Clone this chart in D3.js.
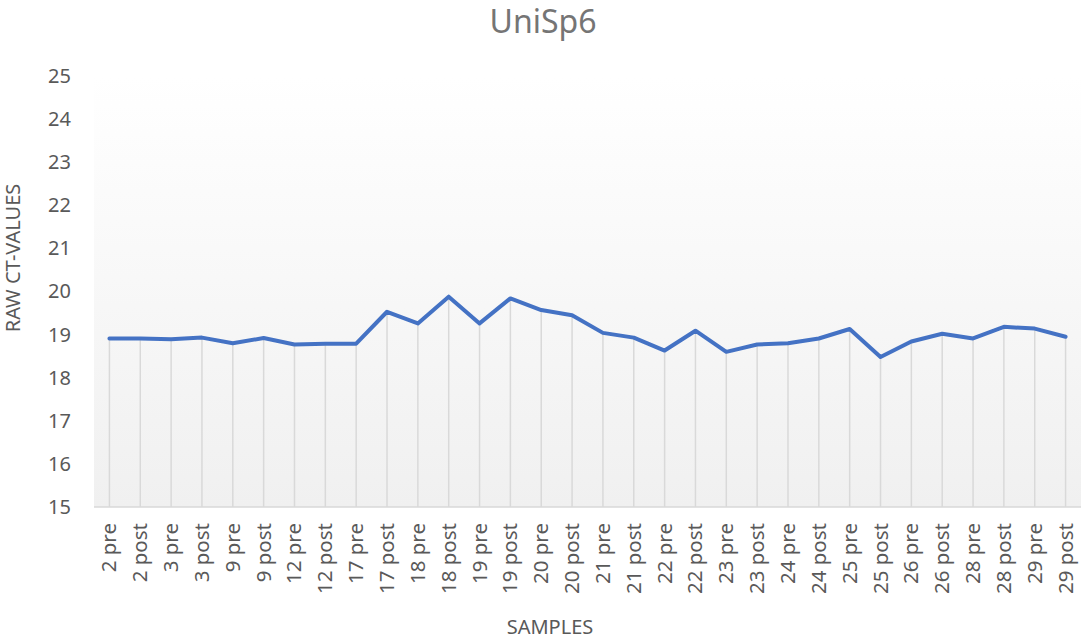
<!DOCTYPE html>
<html>
<head>
<meta charset="utf-8">
<script src="https://cdn.jsdelivr.net/npm/d3@7"></script>
<style>
  body { margin: 0; background: #fff; }
  text { font-family: "Noto Sans", "Open Sans", sans-serif; }
</style>
</head>
<body>
<script>
const svgW = 1081;
const svgH = 639;

// data
const samples = ['2 pre', '2 post', '3 pre', '3 post', '9 pre', '9 post', '12 pre', '12 post',
                 '17 pre', '17 post', '18 pre', '18 post', '19 pre', '19 post', '20 pre', '20 post',
                 '21 pre', '21 post', '22 pre', '22 post', '23 pre', '23 post', '24 pre', '24 post',
                 '25 pre', '25 post', '26 pre', '26 post', '28 pre', '28 post', '29 pre', '29 post'];
const ctValues = [18.91, 18.91, 18.89, 18.93, 18.80, 18.92, 18.77, 18.79,
                  18.79, 19.53, 19.26, 19.88, 19.26, 19.84, 19.57, 19.45,
                  19.04, 18.93, 18.63, 19.09, 18.60, 18.77, 18.80, 18.91,
                  19.13, 18.48, 18.84, 19.02, 18.91, 19.18, 19.14, 18.95];
const yTicks = [15, 16, 17, 18, 19, 20, 21, 22, 23, 24, 25];

const plot = { left: 94, right: 1081, top: 76, bottom: 507 };

const svg = d3.select('body')
              .append('svg')
              .attr('width', svgW)
              .attr('height', svgH);

// plot-area gradient
const grad = svg.append('defs').append('linearGradient')
                .attr('id', 'bg')
                .attr('x1', 0).attr('y1', 0).attr('x2', 0).attr('y2', 1);
grad.append('stop').attr('offset', '0%').attr('stop-color', '#ffffff');
grad.append('stop').attr('offset', '100%').attr('stop-color', '#f0f0f0');

svg.append('rect')
   .attr('x', plot.left)
   .attr('y', plot.top)
   .attr('width', plot.right - plot.left)
   .attr('height', plot.bottom - plot.top)
   .attr('fill', 'url(#bg)');

const x = d3.scaleBand()
            .domain(samples)
            .range([plot.left, plot.right]);

const y = d3.scaleLinear()
            .domain([15, 25])
            .range([plot.bottom, plot.top]);

const cx = d => x(d) + x.bandwidth() / 2;

// drop lines
svg.append('g')
   .selectAll('line')
   .data(samples)
   .enter()
   .append('line')
   .attr('x1', d => cx(d))
   .attr('x2', d => cx(d))
   .attr('y1', (d, i) => y(ctValues[i]))
   .attr('y2', y(15))
   .attr('stroke', '#d9d9d9')
   .attr('stroke-width', 1.5);

// baseline
svg.append('line')
   .attr('x1', plot.left)
   .attr('x2', plot.right)
   .attr('y1', y(15))
   .attr('y2', y(15))
   .attr('stroke', '#d9d9d9')
   .attr('stroke-width', 1.5);

// y axis labels
const yAxis = svg.append('g')
                 .attr('transform', 'translate(71,0)')
                 .call(d3.axisLeft(y).tickValues(yTicks).tickSize(0).tickPadding(0));
yAxis.select('.domain').remove();
yAxis.selectAll('text')
     .attr('font-family', '"Noto Sans", sans-serif')
     .attr('font-size', 20)
     .attr('fill', '#595959');

// x axis labels
const xAxis = svg.append('g')
                 .attr('transform', `translate(0,${plot.bottom})`)
                 .call(d3.axisBottom(x).tickSize(0).tickPadding(0));
xAxis.select('.domain').remove();
xAxis.selectAll('text')
     .attr('font-family', '"Noto Sans", sans-serif')
     .attr('font-size', 20.5)
     .attr('fill', '#595959')
     .attr('text-anchor', 'end')
     .attr('dy', null)
     .attr('transform', 'translate(7,16) rotate(-90)');

// line
const line = d3.line()
               .x((d, i) => cx(samples[i]))
               .y(d => y(d));

svg.append('path')
   .datum(ctValues)
   .attr('d', line)
   .attr('fill', 'none')
   .attr('stroke', '#4472c4')
   .attr('stroke-width', 4)
   .attr('stroke-linejoin', 'round')
   .attr('stroke-linecap', 'round');

// titles
svg.append('text')
   .attr('x', 543)
   .attr('y', 33)
   .attr('text-anchor', 'middle')
   .attr('font-size', 32)
   .attr('fill', '#757575')
   .text('UniSp6');

svg.append('text')
   .attr('transform', 'translate(20,258) rotate(-90)')
   .attr('text-anchor', 'middle')
   .attr('font-size', 20)
   .attr('fill', '#595959')
   .text('RAW CT-VALUES');

svg.append('text')
   .attr('x', 550)
   .attr('y', 634)
   .attr('text-anchor', 'middle')
   .attr('font-size', 20)
   .attr('fill', '#595959')
   .text('SAMPLES');
</script>
</body>
</html>
